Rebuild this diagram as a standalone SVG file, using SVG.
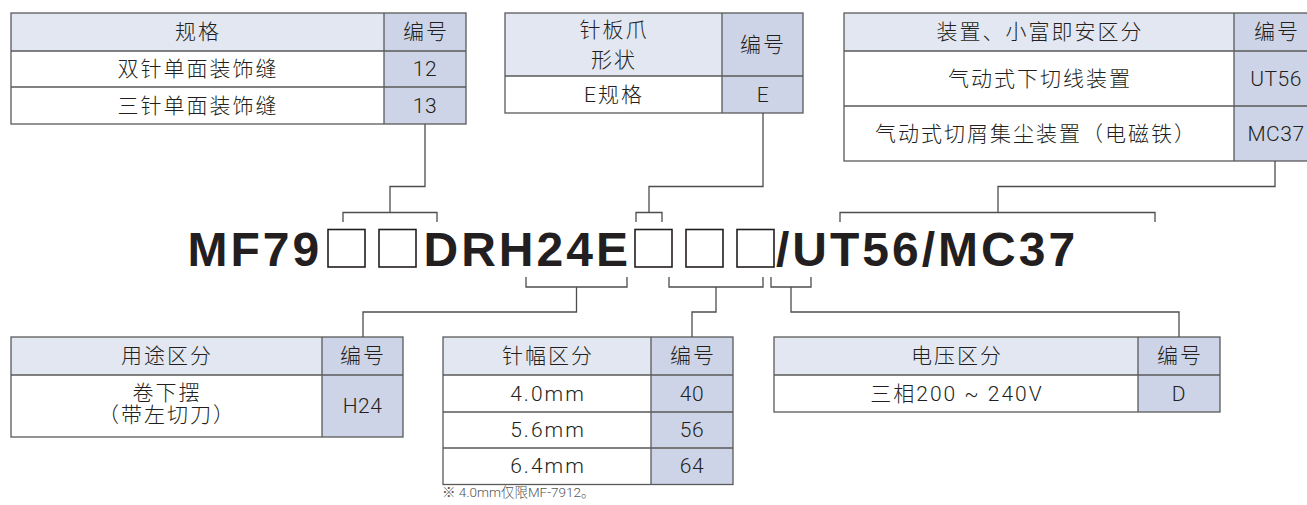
<svg xmlns="http://www.w3.org/2000/svg" width="1307" height="505" viewBox="0 0 1307 505">
<style>
.hd{fill:#e3e7f1}
.nm{fill:#ced4e7}
.wh{fill:#ffffff}
.grid{fill:none;stroke:#5a5a5a;stroke-width:1.3}
.t{font-family:Roboto,"Noto Sans CJK SC",sans-serif;font-size:21px;font-weight:300;fill:#231f20;text-anchor:middle;dominant-baseline:central;letter-spacing:2px}
.n{font-family:Roboto,"Noto Sans CJK SC",sans-serif;font-size:21px;font-weight:300;fill:#231f20;text-anchor:middle;dominant-baseline:central;letter-spacing:0.5px}
.code{font-family:"Liberation Sans",Arial,sans-serif;font-weight:bold;font-size:48px;fill:#231f20;letter-spacing:3px}
.box{fill:none;stroke:#231f20;stroke-width:1.6}
.conn{fill:none;stroke:#4d4d4d;stroke-width:1.3}
.note{font-family:Roboto,"Noto Sans CJK SC",sans-serif;font-size:13.5px;font-weight:300;fill:#555555}
</style>
<rect width="1307" height="505" fill="#ffffff"/>

<g id="table-spec">
<rect class="hd" x="11" y="13" width="373" height="38"/>
<rect class="wh" x="11" y="51" width="373" height="73"/>
<rect class="nm" x="384" y="13" width="82" height="111"/>
<rect class="grid" x="11" y="13" width="455" height="111"/>
<path class="grid" d="M11,51H466M11,87H466M384,13V124"/>
<text class="t" x="198" y="32">规格</text>
<text class="t" x="426" y="32">编号</text>
<text class="t" x="198" y="69">双针单面装饰缝</text>
<text class="n" x="425" y="69">12</text>
<text class="t" x="198" y="105.5">三针单面装饰缝</text>
<text class="n" x="425" y="105.5">13</text>
</g>

<g id="table-plate">
<rect class="hd" x="505" y="13" width="217" height="63"/>
<rect class="wh" x="505" y="76" width="217" height="37"/>
<rect class="nm" x="722" y="13" width="81" height="100"/>
<rect class="grid" x="505" y="13" width="298" height="100"/>
<path class="grid" d="M505,76H803M722,13V113"/>
<text class="t" x="614" y="30">针板爪</text>
<text class="t" x="614" y="60">形状</text>
<text class="t" x="763" y="44.5">编号</text>
<text class="t" x="614" y="94.5">E规格</text>
<text class="n" x="763" y="94.5">E</text>
</g>

<g id="table-device">
<rect class="hd" x="844" y="13" width="390" height="38"/>
<rect class="wh" x="844" y="51" width="390" height="110"/>
<rect class="nm" x="1234" y="13" width="80" height="148"/>
<rect class="grid" x="844" y="13" width="470" height="148"/>
<path class="grid" d="M844,51H1314M844,106H1314M1234,13V161"/>
<text class="t" x="1040" y="32">装置、小富即安区分</text>
<text class="t" x="1277" y="32">编号</text>
<text class="t" x="1040" y="78.5">气动式下切线装置</text>
<text class="n" x="1276" y="78.5">UT56</text>
<text class="t" x="1036" y="133.5">气动式切屑集尘装置（电磁铁）</text>
<text class="n" x="1276" y="133.5">MC37</text>
</g>

<g id="model-code">
<text class="code" x="187.5" y="266">MF79</text>
<rect class="box" x="328" y="229.5" width="37" height="37.5"/>
<rect class="box" x="379" y="229.5" width="37" height="37.5"/>
<text class="code" x="423.5" y="266">DRH24E</text>
<rect class="box" x="635" y="229.5" width="37" height="37.5"/>
<rect class="box" x="686" y="229.5" width="37" height="37.5"/>
<rect class="box" x="737" y="229.5" width="37" height="37.5"/>
<text class="code" x="776" y="266">/UT56/MC37</text>
</g>

<g id="table-use">
<rect class="hd" x="11" y="337" width="311" height="38"/>
<rect class="wh" x="11" y="375" width="311" height="62"/>
<rect class="nm" x="322" y="337" width="81" height="100"/>
<rect class="grid" x="11" y="337" width="392" height="100"/>
<path class="grid" d="M11,375H403M322,337V437"/>
<text class="t" x="167" y="356">用途区分</text>
<text class="t" x="363" y="356">编号</text>
<text class="t" x="167" y="393">卷下摆</text>
<text class="t" x="167" y="415">（带左切刀）</text>
<text class="n" x="362.5" y="406">H24</text>
</g>

<g id="table-gauge">
<rect class="hd" x="443" y="337" width="208" height="38"/>
<rect class="wh" x="443" y="375" width="208" height="109.5"/>
<rect class="nm" x="651" y="337" width="82" height="147.5"/>
<rect class="grid" x="443" y="337" width="290" height="147.5"/>
<path class="grid" d="M443,375H733M443,412H733M443,448H733M651,337V484.5"/>
<text class="t" x="548" y="356">针幅区分</text>
<text class="t" x="693" y="356">编号</text>
<text class="t" x="548" y="393.5">4.0mm</text>
<text class="n" x="692" y="393.5">40</text>
<text class="t" x="548" y="430">5.6mm</text>
<text class="n" x="692" y="430">56</text>
<text class="t" x="548" y="466">6.4mm</text>
<text class="n" x="692" y="466">64</text>
<text class="note" x="442" y="497">※ 4.0mm仅限MF-7912。</text>
</g>

<g id="table-voltage">
<rect class="hd" x="774" y="337" width="364" height="38"/>
<rect class="wh" x="774" y="375" width="364" height="37"/>
<rect class="nm" x="1138" y="337" width="82" height="75"/>
<rect class="grid" x="774" y="337" width="446" height="75"/>
<path class="grid" d="M774,375H1220M1138,337V412"/>
<text class="t" x="957" y="356">电压区分</text>
<text class="t" x="1180" y="356">编号</text>
<text class="t" x="957" y="393.5">三相200 ~ 240V</text>
<text class="n" x="1179" y="393.5">D</text>
</g>

<g id="connectors">
<path class="conn" d="M425,124V186.5H390V212.5M343,222V212.5H437V222"/>
<path class="conn" d="M763,113V186.5H649V212.5M636,222V212.5H662V222"/>
<path class="conn" d="M1275,161V186.5H998V212.5M840,222V212.5H1155V222"/>
<path class="conn" d="M526,277V287H627V277M576.5,287V312H363V337"/>
<path class="conn" d="M669,277V287H763V277M716,287V312H692V337"/>
<path class="conn" d="M771,277V287H811V277M791,287V312H1179V337"/>
</g>
</svg>
